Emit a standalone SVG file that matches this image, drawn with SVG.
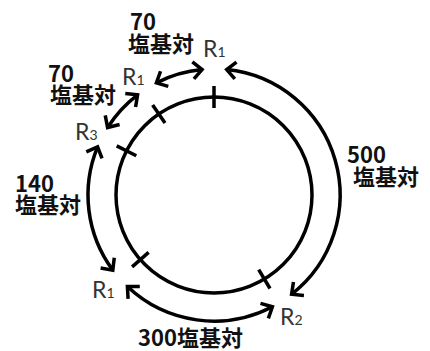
<svg xmlns="http://www.w3.org/2000/svg" width="430" height="351" viewBox="0 0 430 351">
  <style>
    .lbl { font-family: "Noto Sans CJK JP", "Liberation Sans", sans-serif; font-weight: 700; font-size: 22px; fill: #111; }
    .r { font-family: "Lato", "Open Sans", "Liberation Sans", sans-serif; font-weight: 400; font-size: 23px; fill: #333; }
    .sub { font-size: 14px; }
    .arc { fill: none; stroke: #000; stroke-width: 3.5; marker-start: url(#ah); marker-end: url(#ah); }
    .ring { fill: none; stroke: #000; stroke-width: 3.5; }
    .tick { stroke: #000; stroke-width: 3.5; }
  </style>
  <defs>
    <marker id="ah" viewBox="-14 -14 28 28" refX="0" refY="0" markerWidth="28" markerHeight="28" markerUnits="userSpaceOnUse" orient="auto-start-reverse">
      <path d="M -9,-8.5 L 0,0 L -9,8.5" fill="none" stroke="#000" stroke-width="3.5" stroke-linejoin="miter"/>
    </marker>
  </defs>
  <rect width="430" height="351" fill="#fff"/>

  <g id="ring">
    <circle class="ring" cx="214" cy="195" r="98"/>
    <line class="tick" x1="214" y1="108" x2="214" y2="86"/>
    <line class="tick" x1="165.0" y1="123.1" x2="152.6" y2="105.0"/>
    <line class="tick" x1="136.3" y1="155.8" x2="116.7" y2="145.9"/>
    <line class="tick" x1="148.6" y1="252.4" x2="132.1" y2="266.9"/>
    <line class="tick" x1="258.7" y1="269.7" x2="270.0" y2="288.5"/>
  </g>

  <g id="connectors">
    <path class="arc" d="M 156.4,82.9 A 126 126 0 0 1 202.1,69.6"/>
    <path class="arc" d="M 137.6,94.8 A 126 126 0 0 0 107.6,127.5"/>
    <path class="arc" d="M 226.7,69.6 A 126 126 0 0 1 291.6,294.3"/>
    <path class="arc" d="M 97.6,146.8 A 126 126 0 0 0 112.8,270.1"/>
    <path class="arc" d="M 127.4,286.6 A 126 126 0 0 0 272.4,306.7"/>
  </g>

  <g id="node-r1-top"><text class="r" x="203" y="57">R<tspan class="sub">1</tspan></text></g>
  <g id="node-r1-left"><text class="r" x="122" y="85">R<tspan class="sub">1</tspan></text></g>
  <g id="node-r3"><text class="r" x="75" y="140">R<tspan class="sub">3</tspan></text></g>
  <g id="node-r1-bottom"><text class="r" x="92" y="298">R<tspan class="sub">1</tspan></text></g>
  <g id="node-r2"><text class="r" x="280" y="325">R<tspan class="sub">2</tspan></text></g>

  <g id="label-70-top">
    <text class="lbl"><tspan x="130" y="30">70</tspan><tspan x="128" y="52">塩基対</tspan></text>
  </g>
  <g id="label-70-left">
    <text class="lbl"><tspan x="48" y="82">70</tspan><tspan x="50" y="103">塩基対</tspan></text>
  </g>
  <g id="label-500">
    <text class="lbl"><tspan x="347" y="163">500</tspan><tspan x="353" y="185">塩基対</tspan></text>
  </g>
  <g id="label-140">
    <text class="lbl"><tspan x="15" y="192">140</tspan><tspan x="15" y="213">塩基対</tspan></text>
  </g>
  <g id="label-300">
    <text class="lbl" x="138" y="346">300塩基対</text>
  </g>
</svg>
